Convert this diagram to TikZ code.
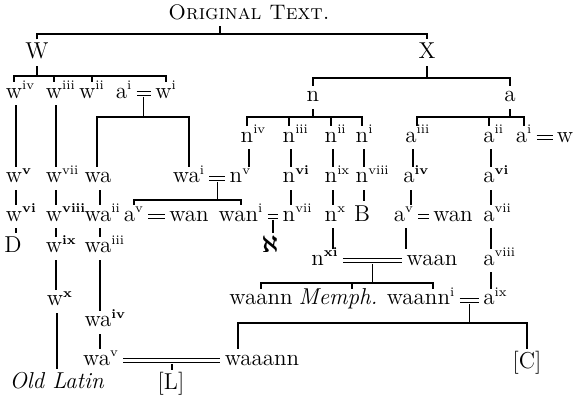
\documentclass[tikz,border=0pt]{standalone}
\usepackage{amsmath,amssymb}
\usepackage{tikz}
\newcommand{\supf}[1]{\textsuperscript{\fontsize{6.5pt}{7pt}\selectfont #1}}
\newcommand{\supfb}[1]{\textsuperscript{\fontsize{6.5pt}{7pt}\selectfont\bfseries #1}}
\newcommand{\supr}[1]{\rlap{\supf{#1}}}
\newcommand{\suprb}[1]{\rlap{\supfb{#1}}}

\begin{document}
\begin{tikzpicture}[x=0.5pt, y=-0.5pt, line width=0.7pt,
      lab/.style={inner sep=0.8pt, anchor=base, text height=7pt, text depth=2.5pt,
                  font=\fontsize{11.5pt}{13pt}\selectfont},
      capl/.style={lab, text height=8.6pt},
      eqd/.style={double, double distance=1.1pt, line width=0.6pt,
                  shorten <=1pt, shorten >=1pt}
  ]
    \useasboundingbox (0,0) rectangle (575,396);
    \coordinate (yT) at (0,34);
    \coordinate (yW) at (0,76);
    \coordinate (yX) at (0,78);
    \coordinate (yA) at (0,117);
    \coordinate (yB) at (0,200);
    \coordinate (yM) at (0,283);
    \coordinate (yC) at (0,323);

    \node[capl, font=\fontsize{10.5pt}{12pt}\selectfont] (orig) at (249,19) {\textsc{Original Text.}};
    \node[capl] (W) at (37,59) {W};
    \node[capl] (X) at (427,59) {X};
    \node[lab]  (n) at (313,102) {n};
    \node[lab]  (a) at (510,102) {a};

    \node[lab] (wiv)  at (14,98)  {w\supr{iv}};
    \node[lab] (wiii) at (54,98)  {w\supr{iii}};
    \node[lab] (wii)  at (92,98)  {w\supf{ii}};
    \node[lab] (ai1)  at (124,98) {a\supf{i}};
    \node[lab] (wi)   at (166,98) {w\supf{i}};

    \node[lab] (niv)  at (247,142) {n\supr{iv}};
    \node[lab] (niii) at (289,142) {n\supr{iii}};
    \node[lab] (nii)  at (331,142) {n\supr{ii}};
    \node[lab] (ni)   at (362,142) {n\supr{i}};
    \node[lab] (aiii) at (411,142) {a\supr{iii}};
    \node[lab] (aii)  at (489,142) {a\supr{ii}};
    \node[lab] (ai2)  at (524,142) {a\supf{i}};
    \node[lab] (w2)   at (565,142) {w};

    \node[lab] (wv)    at (14,183)  {w\suprb{v}};
    \node[lab] (wvii)  at (54,183)  {w\supr{vii}};
    \node[lab] (wa)    at (98,183)  {wa};
    \node[lab] (wai)   at (189,183) {wa\supf{i}};
    \node[lab] (nv)    at (236,183) {n\supr{v}};
    \node[lab] (nvi)   at (289,183) {n\suprb{vi}};
    \node[lab] (nix)   at (331,183) {n\supr{ix}};
    \node[lab] (nviii) at (362,183) {n\supr{viii}};
    \node[lab] (aiv)   at (409,183) {a\suprb{iv}};
    \node[lab] (avi)   at (489,183) {a\suprb{vi}};

    \node[lab]  (wvi)   at (14,221)  {w\suprb{vi}};
    \node[lab]  (wviii) at (54,221)  {w\suprb{viii}};
    \node[lab]  (waii)  at (98,221)  {wa\supr{ii}};
    \node[lab]  (av1)   at (134,221) {a\supf{v}};
    \node[lab]  (wan1)  at (189,221) {wan};
    \node[lab]  (wani)  at (241,221) {wan\supf{i}};
    \node[lab]  (nvii)  at (289,221) {n\supr{vii}};
    \node[lab]  (nx)    at (331,221) {n\supr{x}};
    \node[capl] (B)     at (362,221) {B};
    \node[lab]  (av2)   at (404,221) {a\supf{v}};
    \node[lab]  (wan2)  at (453,221) {wan};
    \node[lab]  (avii)  at (489,221) {a\supr{vii}};

    \node[capl] (D)     at (13,253)  {D};
    \node[lab]  (wix)   at (54,253)  {w\suprb{ix}};
    \node[lab]  (waiii) at (98,253)  {wa\supr{iii}};
    \node[capl] (alef)  at (270,253) {$\boldsymbol{\aleph}$};
    \node[lab]  (nxi)   at (325,265) {n\supfb{xi}};
    \node[lab]  (waan)  at (432,265) {waan};
    \node[lab]  (aviii) at (489,265) {a\supr{viii}};

    \node[lab] (wx)     at (55,306)  {w\suprb{x}};
    \node[lab] (waann)  at (261,305) {waann};
    \node[lab] (memph)  at (338,305) {\textit{Memph.}};
    \node[lab] (waanni) at (421,305) {waann\supf{i}};
    \node[lab] (aix)    at (489,305) {a\supr{ix}};
    \node[lab] (waiv)   at (98,327)  {wa\suprb{iv}};

    \node[lab]  (wav)    at (101,365) {wa\supf{v}};
    \node[lab]  (waaann) at (262,365) {waaann};
    \node[capl] (C)      at (527,369) {[C]};
    \node[capl] (oldlat) at (57,389)  {\textit{Old Latin}};
    \node[capl] (L)      at (171,390) {[L]};

    \draw[eqd] (ai1.east) -- coordinate (m1) (wi.west);
    \draw[eqd] (ai2.east) -- (w2.west);
    \draw[eqd] (wai.east) -- coordinate (m2) (nv.west);
    \draw[eqd] (av1.east) -- (wan1.west);
    \draw[eqd] (wani.east) -- coordinate (m3) (nvii.west);
    \draw[eqd] (av2.east) -- (wan2.west);
    \draw[eqd] (nxi.east) -- coordinate (m4) (waan.west);
    \draw[eqd] (waanni.east) -- coordinate (m5) (aix.west);
    \draw[eqd] (wav.east) -- coordinate (m6) (waaann.west);

    \draw ([xshift=-14.5pt]orig.south) -- ([xshift=-14.5pt]orig.south |- yT);
    \draw (W.north) |- (X.north |- yT) -- (X.north);
    \draw (W.south) -- (W.south |- yW);
    \draw (wiv.north) |- (wi.north |- yW) -- (wi.north);
    \foreach \c in {wiii,wii}
      \draw (\c.north) -- (\c.north |- yW);
    \draw (X.south) -- (X.south |- yX);
    \draw (n.north) |- (a.north |- yX) -- (a.north);
    \draw (n.south) -- (n.south |- yA);
    \draw (niv.north) |- (ni.north |- yA) -- (ni.north);
    \foreach \c in {niii,nii}
      \draw (\c.north) -- (\c.north |- yA);
    \draw (a.south) -- (a.south |- yA);
    \draw ([xshift=3pt]aiii.north) |- (ai2.north |- yA) -- (ai2.north);
    \draw (aii.north) -- (aii.north |- yA);

    \draw ([yshift=-1.7pt]m1) -- (m1 |- yA);
    \draw ([xshift=-0.5pt]wa.north) |- (wai.north |- yA) -- (wai.north);
    \draw ([yshift=-1.7pt]m2) -- (m2 |- yB);
    \draw (av1.north) |- (wani.north |- yB) -- (wani.north);
    \draw ([yshift=-1.7pt]m3) -- (m3 |- alef.north);
    \draw ([yshift=-1.7pt]m4) -- (m4 |- yM);
    \draw (waann.north) |- ([xshift=6pt]waanni.north |- yM) -- ([xshift=6pt]waanni.north);
    \draw ([xshift=7pt]memph.north) -- ([xshift=7pt]memph.north |- yM);
    \draw ([yshift=-1.7pt]m5) -- (m5 |- yC);
    \draw ([xshift=-12pt]waaann.north) |- (C.north |- yC) -- (C.north);
    \draw ([yshift=-1.7pt]m6) -- (m6 |- L.north);

    \foreach \p/\c in {wiv/wv, wv/wvi, wvi/D, wiii/wvii, wvii/wviii, wviii/wix,
                       wix/wx, wx/oldlat, wa/waii, waii/waiii, waiii/waiv, waiv/wav,
                       niv/nv, niii/nvi, nvi/nvii, nii/nix, nix/nx, nx/nxi,
                       ni/nviii, nviii/B, aiii/aiv, aiv/av2, av2/waan,
                       aii/avi, avi/avii, avii/aviii, aviii/aix}
      \draw ([xshift=1pt]\p.south) -- ([xshift=1pt]\p.south |- \c.north);
  \end{tikzpicture}
\end{document}
